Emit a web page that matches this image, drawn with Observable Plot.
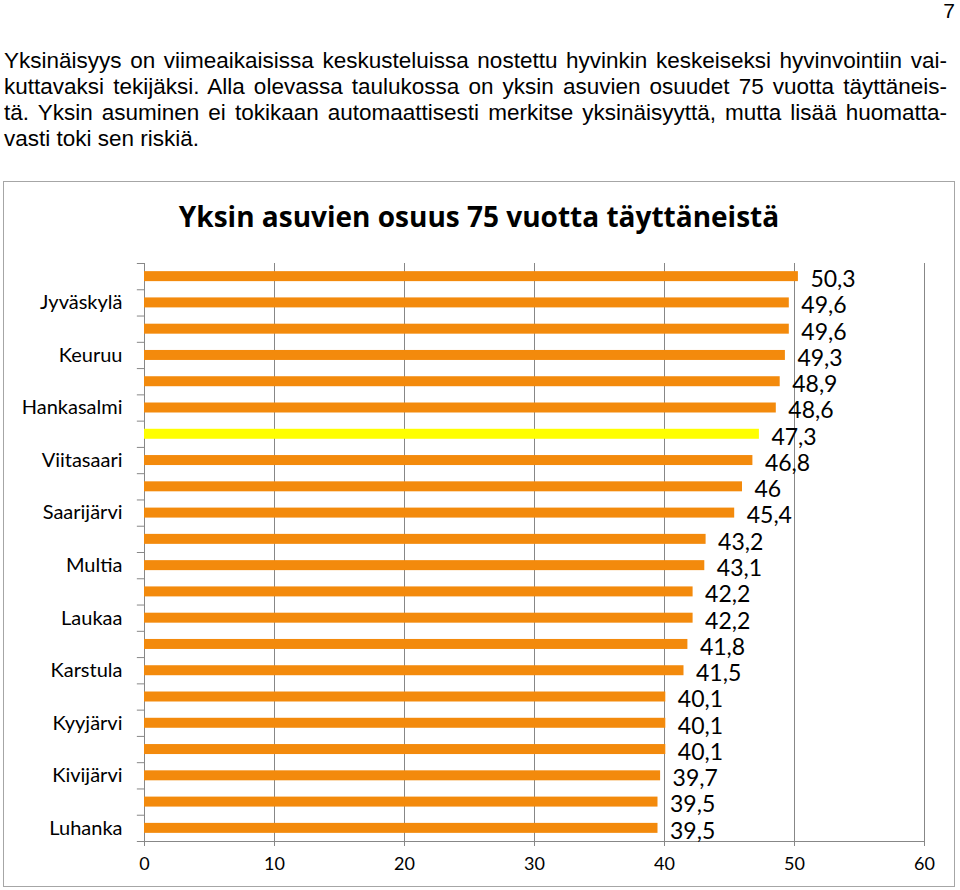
<!DOCTYPE html>
<html>
<head>
<meta charset="utf-8">
<script src="https://cdn.jsdelivr.net/npm/d3@7"></script>
<script src="https://cdn.jsdelivr.net/npm/@observablehq/plot@0.6"></script>
<style>
  html, body { margin: 0; padding: 0; background: #fff; }
  body { width: 960px; height: 890px; position: relative; overflow: hidden; }
  #pagenum { position: absolute; right: 5px; top: 0px; font: 21px/1 "Liberation Sans", Arial, sans-serif; color: #000; }
  #para { position: absolute; left: 4px; top: 48px; width: 943px; font: 22.5px/26px "Liberation Sans", Arial, sans-serif; color: #000; }
  #para div { text-align: justify; text-align-last: justify; white-space: nowrap; }
  #para div.last { text-align-last: left; }
  #box { position: absolute; left: 3px; top: 181px; width: 950px; height: 704px; border: 1px solid #a6a6a6; }
  #title { position: absolute; left: 0; width: 950px; top: 20px; text-align: center; font: bold 28px/1 "Open Sans", sans-serif; color: #000; }
  #chart { position: absolute; left: 0; top: 63px; }
</style>
</head>
<body>
<div id="pagenum">7</div>
<div id="para"></div>
<div id="box">
  <div id="title"></div>
  <div id="chart"></div>
</div>
<script>
// ---- text ----
const pageNumber = "7";
const paragraphLines = [
  "Yksinäisyys on viimeaikaisissa keskusteluissa nostettu hyvinkin keskeiseksi hyvinvointiin vai-",
  "kuttavaksi tekijäksi. Alla olevassa taulukossa on yksin asuvien osuudet 75 vuotta täyttäneis-",
  "tä. Yksin asuminen ei tokikaan automaattisesti merkitse yksinäisyyttä, mutta lisää huomatta-",
  "vasti toki sen riskiä."
];
const chartTitle = "Yksin asuvien osuus 75 vuotta täyttäneistä";

// ---- data (top to bottom) ----
// Only every other category name is printed in the original; unlabeled rows get neutral keys.
const categories = [
  "rivi 1", "Jyväskylä", "rivi 3", "Keuruu", "rivi 5", "Hankasalmi",
  "rivi 7 (korostettu)", "Viitasaari", "rivi 9", "Saarijärvi", "rivi 11", "Multia",
  "rivi 13", "Laukaa", "rivi 15", "Karstula", "rivi 17", "Kyyjärvi",
  "rivi 19", "Kivijärvi", "rivi 21", "Luhanka"
];
const values = [
  50.3, 49.6, 49.6, 49.3, 48.9, 48.6, 47.3, 46.8, 46, 45.4, 43.2,
  43.1, 42.2, 42.2, 41.8, 41.5, 40.1, 40.1, 40.1, 39.7, 39.5, 39.5
];
const highlighted = ["rivi 7 (korostettu)"];
const shownLabels = ["Jyväskylä", "Keuruu", "Hankasalmi", "Viitasaari", "Saarijärvi",
  "Multia", "Laukaa", "Karstula", "Kyyjärvi", "Kivijärvi", "Luhanka"];
const xTicks = [0, 10, 20, 30, 40, 50, 60];

// ---- build ----
document.getElementById("pagenum").textContent = pageNumber;
const para = document.getElementById("para");
paragraphLines.forEach((t, i) => {
  const d = document.createElement("div");
  d.textContent = t;
  if (i === paragraphLines.length - 1) d.className = "last";
  para.appendChild(d);
});
document.getElementById("title").textContent = chartTitle;

const data = categories.map((c, i) => ({name: c, value: values[i], hi: highlighted.includes(c)}));

const W = 950, H = 641;
const mTop = 18, mBottom = 45, mLeft = 140, mRight = 30;
const step = (H - mTop - mBottom) / categories.length;
const grid = "#878787";
const fmt = v => String(v).replace(".", ",");

const plot = Plot.plot({
  width: W, height: H,
  marginTop: mTop, marginBottom: mBottom, marginLeft: mLeft, marginRight: mRight,
  style: {fontFamily: "Lato, sans-serif", background: "transparent", overflow: "visible"},
  x: {domain: [0, 60], ticks: xTicks, label: null},
  y: {domain: categories, paddingInner: 0.62, paddingOuter: 0.31, round: false, label: null},
  marks: [
    Plot.ruleX(xTicks.slice(1), {stroke: grid, strokeWidth: 1}),
    Plot.ruleX([0], {stroke: grid, strokeWidth: 1}),
    // category boundary ticks on the y axis
    Plot.ruleY(categories, {y: d => d, x1: -0.55, x2: 0, dy: -step / 2, stroke: grid, clip: false}),
    Plot.ruleY([categories[categories.length - 1]], {y: d => d, x1: -0.55, x2: 0, dy: step / 2, stroke: grid, clip: false}),
    Plot.frame({anchor: "bottom", stroke: grid}),
    Plot.barX(data, {y: "name", x: "value", fill: d => d.hi ? "#FFFF00" : "#F38A0C"}),
    Plot.text(data, {y: "name", x: "value", text: d => fmt(d.value), textAnchor: "start",
      dx: 12, dy: 3, fontSize: 23, fill: "#000"}),
    Plot.axisX({ticks: xTicks, tickSize: 5, tickPadding: 11, stroke: grid, fontSize: 18, fill: "#000",
      tickFormat: d => String(d), label: null}),
    Plot.axisY({tickSize: 0, tickPadding: 22, fontSize: 20, fill: "#000",
      tickFormat: d => shownLabels.includes(d) ? d : "", label: null})
  ]
});
document.getElementById("chart").appendChild(plot);
</script>
</body>
</html>
